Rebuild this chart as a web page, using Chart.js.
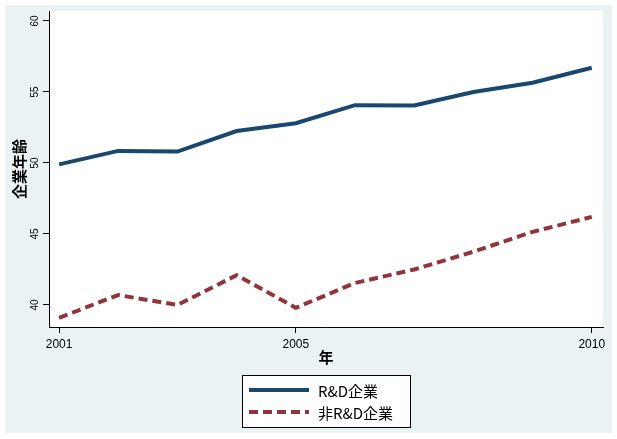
<!DOCTYPE html>
<html>
<head>
<meta charset="utf-8">
<script src="https://cdn.jsdelivr.net/npm/chart.js@4"></script>
<style>
  html, body { margin: 0; padding: 0; background: #fff; }
  #wrap { width: 617px; height: 439px; }
</style>
</head>
<body>
<div id="wrap"><canvas id="Main" width="617" height="439"></canvas></div>
<script>
var years = [2001, 2002, 2003, 2004, 2005, 2006, 2007, 2008, 2009, 2010];
var rdAge = [49.9, 50.85, 50.8, 52.25, 52.8, 54.07, 54.05, 55.0, 55.65, 56.7];
var nonRdAge = [39.1, 40.7, 40.0, 42.1, 39.8, 41.55, 42.5, 43.75, 45.15, 46.2];
var xTicks = [2001, 2005, 2010];
var yTicks = [40, 45, 50, 55, 60];
var seriesNames = ['R&D企業', '非R&D企業'];
var xTitle = '年';
var yTitle = '企業年齢';

var font = '"Liberation Sans", Arial, sans-serif';
var cjk = '"Noto Sans CJK JP", "Liberation Sans", sans-serif';

function pts(vals) {
  return years.map(function (y, i) { return { x: y, y: vals[i] }; });
}

// background, axis titles, rotated y labels, legend
var frame = {
  id: 'frame',
  beforeDraw: function (chart) {
    var ctx = chart.ctx, a = chart.chartArea;
    ctx.save();
    ctx.fillStyle = '#eaf2f3';
    ctx.fillRect(5, 5, 607, 428);
    ctx.fillStyle = '#fff';
    ctx.fillRect(a.left, a.top, a.right - a.left, a.bottom - a.top);
    ctx.restore();
  },
  afterDraw: function (chart) {
    var ctx = chart.ctx, a = chart.chartArea;
    var ys = chart.scales.y;
    ctx.save();
    ctx.fillStyle = '#000';
    // y tick labels, rotated
    ctx.font = '10px ' + font;
    ctx.textAlign = 'center';
    ctx.textBaseline = 'middle';
    yTicks.forEach(function (v) {
      var py = ys.getPixelForValue(v);
      ctx.save();
      ctx.translate(35, py);
      ctx.rotate(-Math.PI / 2);
      ctx.fillText(String(v), 0, 0);
      ctx.restore();
    });
    // y title
    ctx.font = 'bold 15px ' + cjk;
    ctx.save();
    ctx.translate(19, (a.top + a.bottom) / 2);
    ctx.rotate(-Math.PI / 2);
    ctx.fillText(yTitle, 0, 0);
    ctx.restore();
    // x title
    ctx.fillText(xTitle, (a.left + a.right) / 2, 357);
    // legend
    ctx.fillStyle = '#fff';
    ctx.fillRect(242, 375, 168, 52);
    ctx.strokeStyle = '#000';
    ctx.lineWidth = 1;
    ctx.strokeRect(242.5, 375.5, 168, 52);
    var rows = [390, 412];
    chart.data.datasets.forEach(function (ds, i) {
      ctx.beginPath();
      ctx.strokeStyle = ds.borderColor;
      ctx.lineWidth = 4;
      ctx.setLineDash(ds.borderDash || []);
      ctx.moveTo(249, rows[i]);
      ctx.lineTo(309, rows[i]);
      ctx.stroke();
      ctx.setLineDash([]);
      ctx.fillStyle = '#000';
      ctx.font = '15px ' + cjk;
      ctx.textAlign = 'left';
      ctx.textBaseline = 'middle';
      ctx.fillText(ds.label, 318, rows[i] + 1);
    });
    ctx.restore();
  }
};

new Chart(document.getElementById('Main'), {
  type: 'line',
  data: {
    datasets: [
      { label: seriesNames[0], data: pts(rdAge), borderColor: '#1a476f', borderWidth: 4,
        pointRadius: 0, fill: false, tension: 0 },
      { label: seriesNames[1], data: pts(nonRdAge), borderColor: '#90353b', borderWidth: 4,
        borderDash: [9, 5], pointRadius: 0, fill: false, tension: 0 }
    ]
  },
  options: {
    responsive: false,
    animation: false,
    layout: { padding: { left: 0, top: 11, right: 14, bottom: 0 } },
    plugins: { legend: { display: false }, tooltip: { enabled: false } },
    scales: {
      x: {
        type: 'linear', min: 2000.83, max: 2010.19,
        afterBuildTicks: function (s) { s.ticks = xTicks.map(function (v) { return { value: v }; }); },
        afterFit: function (s) { s.height = 112; },
        grid: { drawOnChartArea: false, drawTicks: true, tickLength: 6, color: '#000' },
        border: { display: true, color: '#000', width: 1 },
        ticks: { color: '#000', font: { family: font, size: 12 }, padding: 4, maxRotation: 0,
          callback: function (v) { return String(v); } }
      },
      y: {
        min: 38.45, max: 60.7,
        afterBuildTicks: function (s) { s.ticks = yTicks.map(function (v) { return { value: v }; }); },
        afterFit: function (s) { s.width = 49; },
        grid: { drawOnChartArea: false, drawTicks: true, tickLength: 6, color: '#000' },
        border: { display: true, color: '#000', width: 1 },
        ticks: { display: false }
      }
    }
  },
  plugins: [frame]
});
</script>
</body>
</html>
